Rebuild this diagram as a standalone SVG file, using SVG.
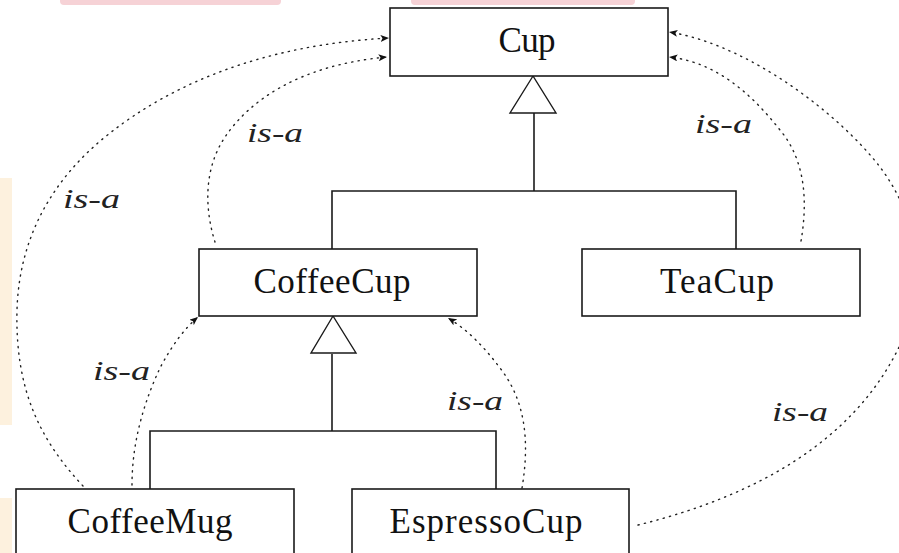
<svg xmlns="http://www.w3.org/2000/svg" width="899" height="553" viewBox="0 0 899 553">
<style>
.box{fill:#fff;stroke:#1a1a1a;stroke-width:1.6}
.lbl{font-family:"Liberation Serif","Times New Roman",serif;font-size:35px;fill:#111;text-anchor:middle}
.isa{font-family:"Liberation Serif","Times New Roman",serif;font-style:italic;font-size:27px;fill:#222}
.inh{fill:none;stroke:#1a1a1a;stroke-width:1.6}
.tri{fill:#fff;stroke:#1a1a1a;stroke-width:1.4}
.dot{fill:none;stroke:#222;stroke-width:1.4;stroke-dasharray:1.2 5.3;stroke-linecap:round}
</style>
<defs>
<marker id="ah" markerUnits="userSpaceOnUse" markerWidth="9" markerHeight="7" refX="8.5" refY="3.5" orient="auto">
<path d="M0,0 L8.5,3.5 L0,7 L2,3.5 z" fill="#111"/>
</marker>
</defs>
<rect width="899" height="553" fill="#fff"/>
<g id="background">
<rect x="60" y="-5" width="221" height="10" rx="4" fill="#f6d2d6"/>
<rect x="411" y="-5" width="224" height="10" rx="4" fill="#f6d2d6"/>
<rect x="0" y="178" width="12" height="247" fill="#fdf1de"/>
<rect x="0" y="498" width="12" height="60" fill="#fdf1de"/>
</g>
<g id="connectors">
<polyline class="inh" points="534,113 534,191"/>
<polyline class="inh" points="332,249 332,191 736,191 736,249"/>
<polygon class="tri" points="533,76 510,113 556,113"/>
<polyline class="inh" points="332,354 332,431"/>
<polyline class="inh" points="150,489 150,431 496,431 496,489"/>
<polygon class="tri" points="333,316 311,353 356,353"/>
<path class="dot" marker-end="url(#ah)" d="M83,486 C40,440 15,390 17,310 C19,240 50,180 110,133 C170,86 260,45 389,38"/>
<path class="dot" marker-end="url(#ah)" d="M215,242 C205,210 203,170 225,137 C250,100 300,65 387,57"/>
<path class="dot" marker-end="url(#ah)" d="M801,241 C808,200 805,160 780,130 C750,92 715,62 669,57"/>
<path class="dot" marker-end="url(#ah)" d="M638,525 C760,495 850,440 895,355 C930,290 920,220 880,167 C840,115 750,45 669,32"/>
<path class="dot" marker-end="url(#ah)" d="M132,485 C132,440 145,400 160,368 C172,345 185,328 198,317"/>
<path class="dot" marker-end="url(#ah)" d="M522,488 C530,440 525,400 500,368 C485,348 468,330 448,318"/>
<text class="isa" x="63" y="208" textLength="57" lengthAdjust="spacingAndGlyphs">is-a</text>
<text class="isa" x="247" y="142" textLength="56" lengthAdjust="spacingAndGlyphs">is-a</text>
<text class="isa" x="695" y="133" textLength="57" lengthAdjust="spacingAndGlyphs">is-a</text>
<text class="isa" x="772" y="421" textLength="56" lengthAdjust="spacingAndGlyphs">is-a</text>
<text class="isa" x="93" y="380" textLength="57" lengthAdjust="spacingAndGlyphs">is-a</text>
<text class="isa" x="447" y="410" textLength="56" lengthAdjust="spacingAndGlyphs">is-a</text>
</g>
<g id="Cup">
<rect class="box" x="390" y="8" width="278" height="68"/>
<text class="lbl" x="527" y="52" textLength="57" lengthAdjust="spacing">Cup</text>
</g>
<g id="CoffeeCup">
<rect class="box" x="199" y="249" width="278" height="67"/>
<text class="lbl" x="332" y="293" textLength="157" lengthAdjust="spacing">CoffeeCup</text>
</g>
<g id="TeaCup">
<rect class="box" x="582" y="249" width="278" height="67"/>
<text class="lbl" x="717" y="293" textLength="114" lengthAdjust="spacing">TeaCup</text>
</g>
<g id="CoffeeMug">
<rect class="box" x="16" y="489" width="278" height="75"/>
<text class="lbl" x="150" y="533" textLength="165" lengthAdjust="spacing">CoffeeMug</text>
</g>
<g id="EspressoCup">
<rect class="box" x="352" y="489" width="277" height="75"/>
<text class="lbl" x="486" y="533" textLength="193" lengthAdjust="spacing">EspressoCup</text>
</g>
</svg>
